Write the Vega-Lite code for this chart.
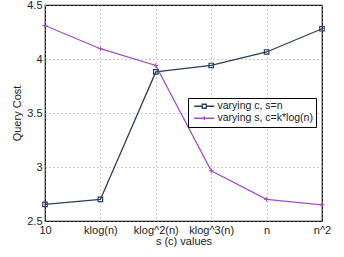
{
  "$schema": "https://vega.github.io/schema/vega-lite/v6.json",
  "width": 277,
  "height": 216,
  "autosize": "none",
  "padding": {"left": 45, "top": 5, "right": 22, "bottom": 36},
  "background": "white",
  "config": {
    "font": "Liberation Sans",
    "view": {"stroke": "black", "strokeWidth": 1.2},
    "axis": {
      "labelFont": "Liberation Sans",
      "titleFont": "Liberation Sans",
      "labelFontSize": 11,
      "titleFontSize": 11,
      "titleFontWeight": "normal",
      "labelColor": "#222",
      "titleColor": "#222",
      "domain": false,
      "grid": true,
      "gridColor": "#999",
      "gridDash": [1, 3],
      "gridWidth": 1,
      "ticks": false
    }
  },
  "data": {
    "values": [
      {"x": "10", "series": "varying c, s=n", "cost": 2.654},
      {"x": "klog(n)", "series": "varying c, s=n", "cost": 2.70},
      {"x": "klog^2(n)", "series": "varying c, s=n", "cost": 3.88},
      {"x": "klog^3(n)", "series": "varying c, s=n", "cost": 3.94},
      {"x": "n", "series": "varying c, s=n", "cost": 4.065},
      {"x": "n^2", "series": "varying c, s=n", "cost": 4.28},
      {"x": "10", "series": "varying s, c=k*log(n)", "cost": 4.31},
      {"x": "klog(n)", "series": "varying s, c=k*log(n)", "cost": 4.095},
      {"x": "klog^2(n)", "series": "varying s, c=k*log(n)", "cost": 3.94},
      {"x": "klog^3(n)", "series": "varying s, c=k*log(n)", "cost": 2.965},
      {"x": "n", "series": "varying s, c=k*log(n)", "cost": 2.70},
      {"x": "n^2", "series": "varying s, c=k*log(n)", "cost": 2.65}
    ]
  },
  "encoding": {
    "x": {
      "field": "x",
      "type": "ordinal",
      "sort": null,
      "scale": {"type": "point", "padding": 0},
      "axis": {"title": "s (c) values", "labelAngle": 0, "labelPadding": 3, "titlePadding": 0}
    },
    "y": {
      "field": "cost",
      "type": "quantitative",
      "scale": {"domain": [2.5, 4.5], "nice": false},
      "axis": {"title": "Query Cost", "values": [2.5, 3, 3.5, 4, 4.5], "format": "~g", "labelPadding": 3, "titlePadding": 4}
    },
    "color": {
      "field": "series",
      "type": "nominal",
      "scale": {"range": ["#2b3f58", "#a24fc4"]},
      "legend": {
        "title": null,
        "orient": "none",
        "legendX": 143,
        "legendY": 93,
        "strokeColor": "black",
        "fillColor": "white",
        "padding": 3,
        "labelFontSize": 10.5,
        "labelFont": "Liberation Sans",
        "labelColor": "#222",
        "labelOffset": 8,
        "symbolType": "stroke",
        "symbolSize": 64,
        "symbolOffset": 8,
        "symbolStrokeWidth": 1.3,
        "rowPadding": 1,
        "encode": {
          "symbols": {
            "update": {
              "shape": {"signal": "datum.index === 0 ? 'M-2.5,0H-0.5M0.5,0H2.5M-0.5,-0.5H0.5V0.5H-0.5Z' : 'M-2.5,0H2.5M0,-0.5V0.5'"},
              "fill": {"value": "transparent"}
            }
          }
        }
      }
    }
  },
  "layer": [
    {"mark": {"type": "line", "strokeWidth": 1.3}},
    {
      "transform": [{"filter": "datum.series === 'varying c, s=n'"}],
      "mark": {"type": "point", "shape": "square", "size": 20, "filled": false, "strokeWidth": 1.2, "opacity": 1}
    },
    {
      "transform": [{"filter": "datum.series !== 'varying c, s=n'"}],
      "mark": {"type": "point", "shape": "M-1,0H1M0,-1V1", "size": 25, "filled": false, "strokeWidth": 1, "opacity": 1}
    }
  ]
}
